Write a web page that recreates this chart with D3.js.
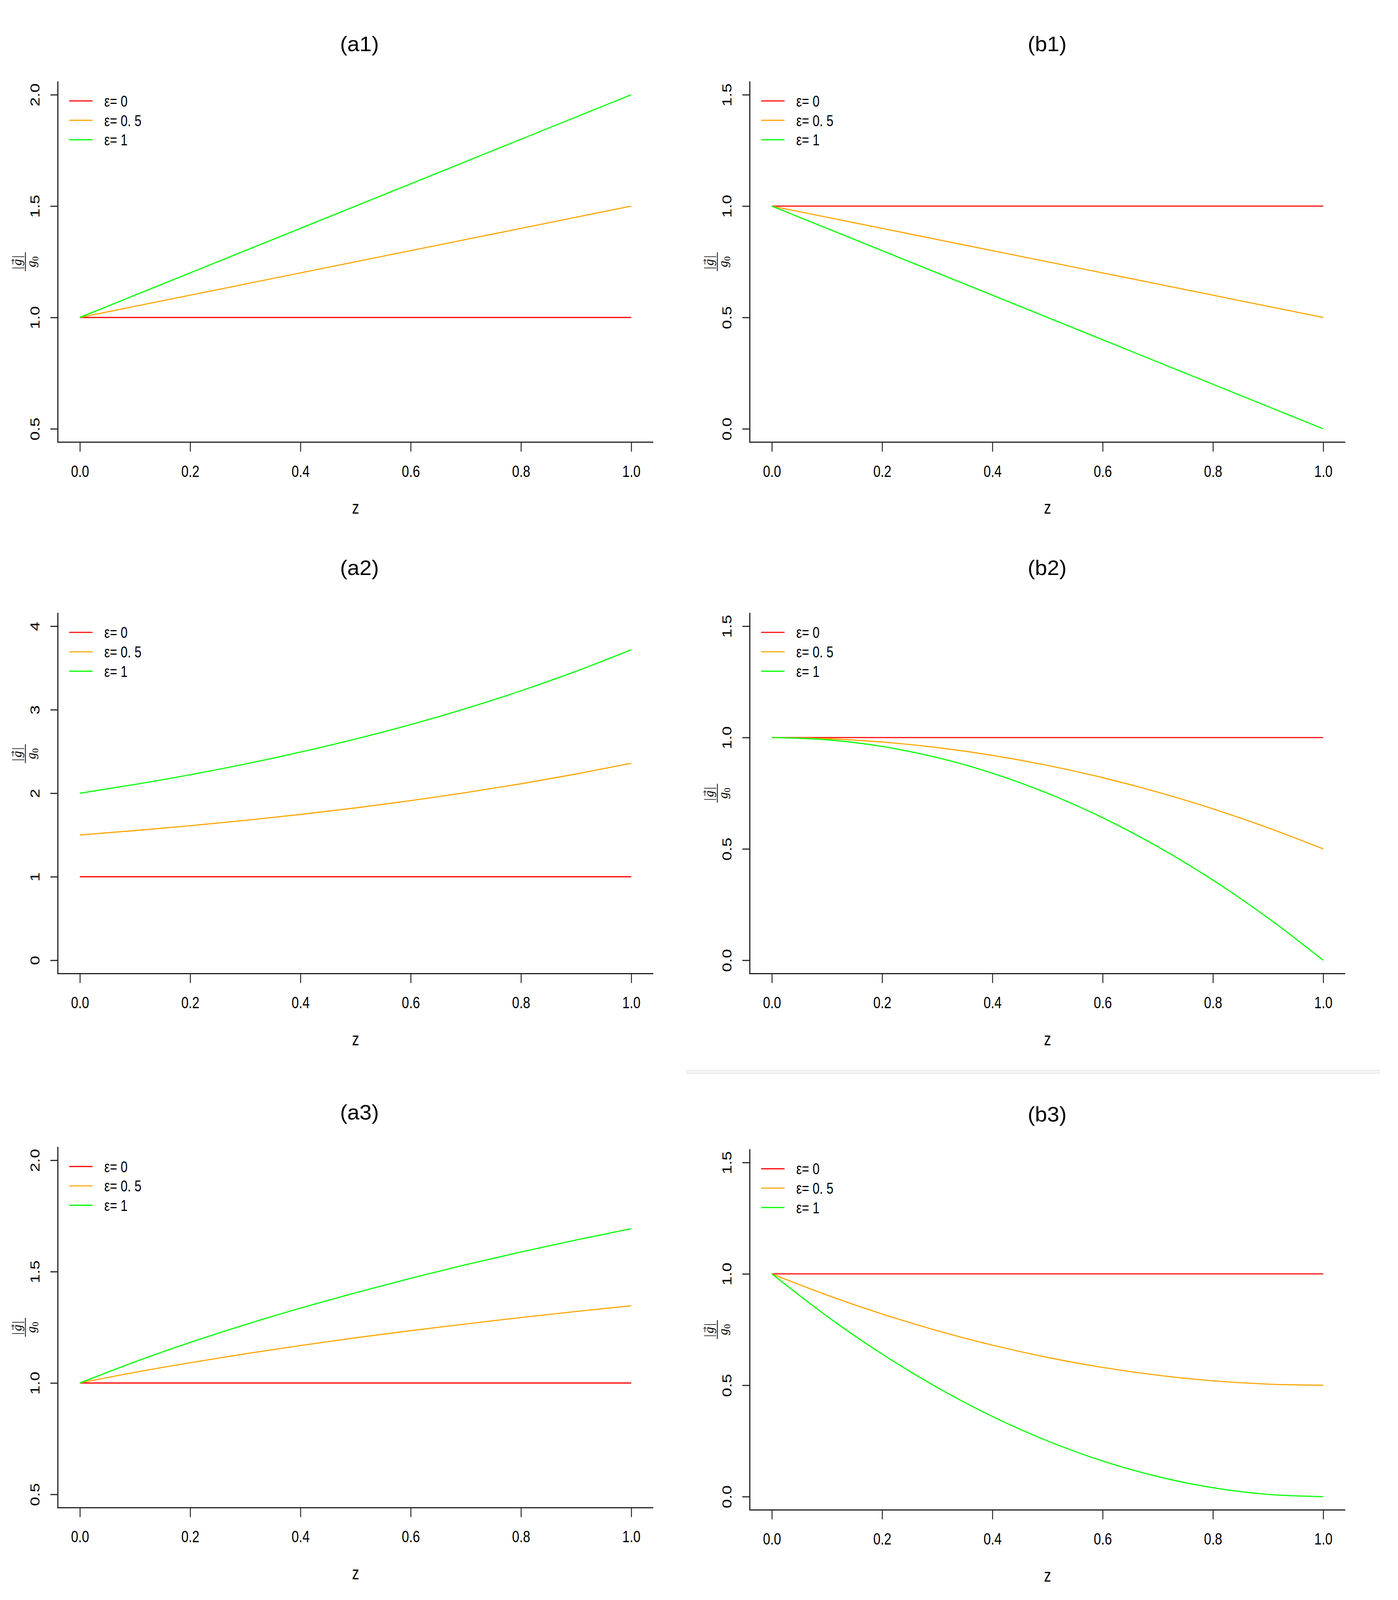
<!DOCTYPE html>
<html>
<head>
<meta charset="utf-8">
<script src="https://cdn.jsdelivr.net/npm/d3@7"></script>
<style>
  html, body { margin: 0; padding: 0; background: #fff; overflow: hidden; }
  #chart { display: block; width: 100vw; height: 100vh; }
  svg text { font-family: "Liberation Sans", Arial, sans-serif; fill: #000; }
</style>
</head>
<body>
<svg id="chart"></svg>
<script>
const W = 3578, H = 4248;

// ---- data ----
const zValues = [0, 0.1, 0.2, 0.3, 0.4, 0.5, 0.6, 0.7, 0.8, 0.9, 1.0];
const xTicks = [0, 0.2, 0.4, 0.6, 0.8, 1.0];
const xTickLabels = ['0.0', '0.2', '0.4', '0.6', '0.8', '1.0'];

const legendLabels = ['ε= 0', 'ε= 0. 5', 'ε= 1'];
const seriesColors = ['#ff0000', '#ffa500', '#00ff00'];

const flatRed = [1, 1, 1, 1, 1, 1, 1, 1, 1, 1, 1];

const a1Orange = [1.00, 1.05, 1.10, 1.15, 1.20, 1.25, 1.30, 1.35, 1.40, 1.45, 1.50];
const a1Green  = [1.00, 1.10, 1.20, 1.30, 1.40, 1.50, 1.60, 1.70, 1.80, 1.90, 2.00];
const a2Orange = [1.500, 1.553, 1.611, 1.675, 1.746, 1.824, 1.911, 2.007, 2.113, 2.230, 2.359];
const a2Green  = [2.000, 2.105, 2.221, 2.350, 2.492, 2.649, 2.822, 3.014, 3.226, 3.460, 3.718];
const a3Orange = [1.000, 1.048, 1.091, 1.131, 1.168, 1.203, 1.235, 1.265, 1.294, 1.321, 1.347];
const a3Green  = [1.000, 1.095, 1.182, 1.262, 1.336, 1.405, 1.470, 1.531, 1.588, 1.642, 1.693];
const b1Orange = [1.00, 0.95, 0.90, 0.85, 0.80, 0.75, 0.70, 0.65, 0.60, 0.55, 0.50];
const b1Green  = [1.00, 0.90, 0.80, 0.70, 0.60, 0.50, 0.40, 0.30, 0.20, 0.10, 0.00];
const b2Orange = [1.000, 0.995, 0.980, 0.955, 0.920, 0.875, 0.820, 0.755, 0.680, 0.595, 0.500];
const b2Green  = [1.00, 0.99, 0.96, 0.91, 0.84, 0.75, 0.64, 0.51, 0.36, 0.19, 0.00];
const b3Orange = [1.000, 0.905, 0.820, 0.745, 0.680, 0.625, 0.580, 0.545, 0.520, 0.505, 0.500];
const b3Green  = [1.00, 0.81, 0.64, 0.49, 0.36, 0.25, 0.16, 0.09, 0.04, 0.01, 0.00];

const ticksA13 = [0.5, 1.0, 1.5, 2.0];
const tickLabelsA13 = ['0.5', '1.0', '1.5', '2.0'];
const ticksA2 = [0, 1, 2, 3, 4];
const tickLabelsA2 = ['0', '1', '2', '3', '4'];
const ticksB = [0, 0.5, 1.0, 1.5];
const tickLabelsB = ['0.0', '0.5', '1.0', '1.5'];

// ---- layout ----
const colX = [148, 1919];           // left edge of plot region (y axis line)
const rowTop = [216, 1627, 3045];   // top of plot region
const plotW = 1524, plotH = 958;
const titleX = [920, 2680];
const titleY = [136, 1527, 2972];
const kx = 0.76;                    // the original figure was squeezed horizontally

const panels = [
  {title: '(a1)', col: 0, row: 0, ticks: ticksA13, labels: tickLabelsA13, series: [flatRed, a1Orange, a1Green]},
  {title: '(a2)', col: 0, row: 1, ticks: ticksA2, labels: tickLabelsA2, series: [flatRed, a2Orange, a2Green], labelShift: -105},
  {title: '(a3)', col: 0, row: 2, ticks: ticksA13, labels: tickLabelsA13, series: [flatRed, a3Orange, a3Green]},
  {title: '(b1)', col: 1, row: 0, ticks: ticksB, labels: tickLabelsB, series: [flatRed, b1Orange, b1Green]},
  {title: '(b2)', col: 1, row: 1, ticks: ticksB, labels: tickLabelsB, series: [flatRed, b2Orange, b2Green]},
  {title: '(b3)', col: 1, row: 2, ticks: ticksB, labels: tickLabelsB, series: [flatRed, b3Orange, b3Green], shift: 6}
];

// stretch the 3578x4248 drawing over whatever the viewport really is
const svg = d3.select('#chart')
  .attr('viewBox', `0 0 ${W} ${H}`)
  .attr('preserveAspectRatio', 'none');

svg.append('rect').attr('width', W).attr('height', H).attr('fill', '#fff');

// faint separator left over from the composite figure
[2843, 2849].forEach(yy => {
  svg.append('line')
    .attr('x1', 1756).attr('x2', 3531)
    .attr('y1', yy).attr('y2', yy)
    .attr('stroke', '#dcdcdc').attr('stroke-width', 2);
});

function yLabel(g, cx, cy) {
  const lab = g.append('g').attr('transform', `translate(${cx},${cy}) rotate(-90)`);
  lab.append('line')
    .attr('x1', -25).attr('x2', 25).attr('y1', 0).attr('y2', 0)
    .attr('stroke', '#333').attr('stroke-width', 2.5);
  const num = lab.append('text')
    .attr('x', 0).attr('y', -10)
    .attr('text-anchor', 'middle')
    .style('font-family', '"Liberation Serif", "DejaVu Serif", serif')
    .style('font-size', '34px')
    .style('letter-spacing', '3px');
  num.append('tspan').text('|');
  num.append('tspan').style('font-style', 'italic').text('g');
  num.append('tspan').text('|');
  lab.append('path')
    .attr('d', 'M-7,-32 H6 M2,-35.5 L6.5,-32 L2,-28.5')
    .attr('fill', 'none').attr('stroke', '#333').attr('stroke-width', 1.8);
  const den = lab.append('text')
    .attr('x', 0).attr('y', 26)
    .attr('text-anchor', 'middle')
    .style('font-family', '"Liberation Serif", "DejaVu Serif", serif')
    .style('font-size', '34px');
  den.append('tspan').style('font-style', 'italic').text('g');
  den.append('tspan').attr('dy', 7).style('font-size', '24px').text('0');
}

panels.forEach(p => {
  const left = colX[p.col];
  const top = rowTop[p.row] + (p.shift || 0);
  const bottom = top + plotH;
  const right = left + plotW;

  const lo = d3.min(p.ticks), hi = d3.max(p.ticks);
  const pad = 0.04 * (hi - lo);
  const x = d3.scaleLinear().domain([-0.04, 1.04]).range([left, right]);
  const y = d3.scaleLinear().domain([lo - pad, hi + pad]).range([bottom, top]);

  const g = svg.append('g');

  // title
  g.append('text')
    .attr('x', titleX[p.col])
    .attr('y', titleY[p.row] + (p.shift || 0))
    .attr('text-anchor', 'middle')
    .style('font-size', '56px')
    .text(p.title);

  // x axis
  const xAxis = d3.axisBottom(x)
    .tickValues(xTicks)
    .tickFormat((d, i) => xTickLabels[i])
    .tickSizeInner(25)
    .tickSizeOuter(0);
  const gx = g.append('g').attr('transform', `translate(0,${bottom})`).call(xAxis);
  gx.select('.domain').remove();
  gx.selectAll('.tick line').attr('stroke', '#222').attr('stroke-width', 2.4);
  gx.selectAll('.tick text')
    .attr('y', null).attr('dy', null)
    .attr('transform', `translate(0,92) scale(${kx},1)`)
    .style('font-size', '44px')
    .style('font-family', '"Liberation Sans", Arial, sans-serif')
    .attr('fill', '#000');

  // y axis
  const yAxis = d3.axisLeft(y)
    .tickValues(p.ticks)
    .tickFormat((d, i) => p.labels[i])
    .tickSizeInner(19)
    .tickSizeOuter(0);
  const gy = g.append('g').attr('transform', `translate(${left},0)`).call(yAxis);
  gy.select('.domain').remove();
  gy.selectAll('.tick line').attr('stroke', '#222').attr('stroke-width', 3);
  gy.selectAll('.tick text')
    .attr('x', null).attr('dy', null)
    .attr('text-anchor', 'middle')
    .attr('transform', `translate(-47,0) scale(${kx},1) rotate(-90)`)
    .style('font-size', '44px')
    .style('font-family', '"Liberation Sans", Arial, sans-serif')
    .attr('fill', '#000');

  // L-shaped box
  g.append('path')
    .attr('d', `M${left},${top} V${bottom} H${right}`)
    .attr('fill', 'none')
    .attr('stroke', '#222')
    .attr('stroke-width', 3);

  // axis titles
  g.append('text')
    .attr('transform', `translate(${(left + right) / 2},${bottom + 190}) scale(${kx},1)`)
    .attr('text-anchor', 'middle')
    .style('font-size', '48px')
    .text('z');
  yLabel(g, left - 83, (top + bottom) / 2 + (p.labelShift || 0));

  // curves
  const line = d3.line()
    .x((d, i) => x(zValues[i]))
    .y(d => y(d))
    .curve(d3.curveMonotoneX);
  p.series.forEach((s, k) => {
    g.append('path')
      .datum(s)
      .attr('d', line)
      .attr('fill', 'none')
      .attr('stroke', seriesColors[k])
      .attr('stroke-width', 3);
  });

  // legend
  const leg = g.append('g');
  legendLabels.forEach((lab, k) => {
    const ly = top + 52 + k * 51.5;
    leg.append('line')
      .attr('x1', left + 29).attr('x2', left + 89)
      .attr('y1', ly).attr('y2', ly)
      .attr('stroke', seriesColors[k])
      .attr('stroke-width', 3);
    leg.append('text')
      .attr('transform', `translate(${left + 119},${ly + 15}) scale(${kx},1)`)
      .style('font-size', '42px')
      .text(lab);
  });
});
</script>
</body>
</html>
